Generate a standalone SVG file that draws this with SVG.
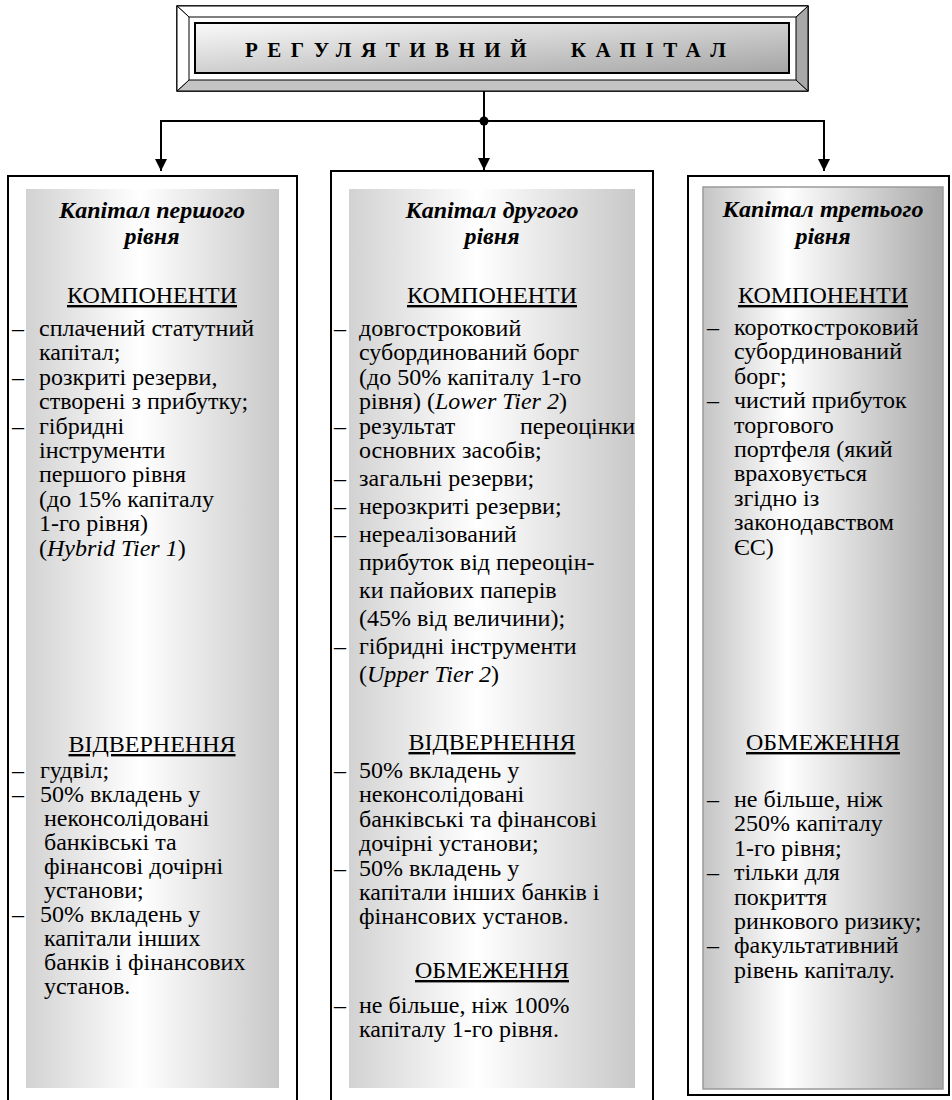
<svg xmlns="http://www.w3.org/2000/svg" width="952" height="1100" viewBox="0 0 952 1100">
<defs>
<linearGradient id="gCol" x1="0" y1="0" x2="1" y2="0">
<stop offset="0" stop-color="#d2d2d2"/><stop offset="0.45" stop-color="#ffffff"/><stop offset="1" stop-color="#c8c8c8"/>
</linearGradient>
<linearGradient id="gCol3" x1="0" y1="0" x2="1" y2="0">
<stop offset="0" stop-color="#c4c4c4"/><stop offset="0.35" stop-color="#ffffff"/><stop offset="1" stop-color="#a8a8a8"/>
</linearGradient>
<linearGradient id="gTitle" x1="0" y1="0" x2="1" y2="1">
<stop offset="0" stop-color="#fafafa"/><stop offset="1" stop-color="#a4a4a4"/>
</linearGradient>
<marker id="arr" viewBox="0 0 12 12" refX="12" refY="6" markerWidth="12" markerHeight="12" markerUnits="userSpaceOnUse" orient="auto">
<path d="M0,0 L12,6 L0,12 Z" fill="#000"/>
</marker>
<style>
.h{font-weight:bold;font-style:italic;text-anchor:middle}
.s{text-decoration:underline;text-anchor:middle}
.i{font-style:italic}
.box{fill:#fff;stroke:#000;stroke-width:2}
</style>
</defs>
<rect width="952" height="1100" fill="#fff"/>

<g id="tier1" font-family="Liberation Serif, serif" font-size="24">
<rect class="box" x="8" y="176" width="289" height="932"/>
<rect x="26" y="189" width="253" height="899" fill="url(#gCol)"/>
<text x="39" y="555.6">(<tspan class="i">Hybrid Tier 1</tspan>)</text>
<text class="h" x="152" y="218">Капітал першого</text>
<text class="h" x="152" y="244">рівня</text>
<text class="s" x="152" y="303">КОМПОНЕНТИ</text>
<text x="12" y="336">–</text><text x="39" y="336">сплачений статутний</text>
<text x="39" y="360.4">капітал;</text>
<text x="12" y="384.8">–</text><text x="39" y="384.8">розкриті резерви,</text>
<text x="39" y="409.2">створені з прибутку;</text>
<text x="12" y="433.6">–</text><text x="39" y="433.6">гібридні</text>
<text x="39" y="458">інструменти</text>
<text x="39" y="482.4">першого рівня</text>
<text x="39" y="506.8">(до 15% капіталу</text>
<text x="39" y="531.2">1-го рівня)</text>
<text class="s" x="152" y="752">ВІДВЕРНЕННЯ</text>
<text x="12" y="778">–</text><text x="40" y="778">гудвіл;</text>
<text x="12" y="802">–</text><text x="40" y="802">50% вкладень у</text>
<text x="44" y="826">неконсолідовані</text>
<text x="44" y="850">банківські та</text>
<text x="44" y="874">фінансові дочірні</text>
<text x="44" y="898">установи;</text>
<text x="12" y="922">–</text><text x="40" y="922">50% вкладень у</text>
<text x="44" y="946">капітали інших</text>
<text x="44" y="970">банків і фінансових</text>
<text x="44" y="994">установ.</text>
</g>

<g id="tier2" font-family="Liberation Serif, serif" font-size="24">
<rect class="box" x="331" y="171" width="322" height="937"/>
<rect x="349" y="189" width="286" height="899" fill="url(#gCol)"/>
<text x="359" y="409.2">рівня) (<tspan class="i">Lower Tier 2</tspan>)</text>
<text class="h" x="492" y="218">Капітал другого</text>
<text class="h" x="492" y="244">рівня</text>
<text class="s" x="492" y="303">КОМПОНЕНТИ</text>
<text x="334" y="336">–</text><text x="359" y="336">довгостроковий</text>
<text x="359" y="360.4">субординований борг</text>
<text x="359" y="384.8">(до 50% капіталу 1-го</text>
<text x="334" y="433.6">–</text><text x="359" y="433.6">результат</text><text x="635" y="433.6" text-anchor="end">переоцінки</text>
<text x="359" y="458">основних засобів;</text>
<text x="334" y="486">–</text><text x="359" y="486">загальні резерви;</text>
<text x="334" y="514">–</text><text x="359" y="514">нерозкриті резерви;</text>
<text x="334" y="542">–</text><text x="359" y="542">нереалізований</text>
<text x="359" y="570">прибуток від переоцін-</text>
<text x="359" y="598">ки пайових паперів</text>
<text x="359" y="626">(45% від величини);</text>
<text x="334" y="654">–</text><text x="359" y="654">гібридні інструменти</text>
<text x="359" y="682">(<tspan class="i">Upper Tier 2</tspan>)</text>
<text class="s" x="492" y="750">ВІДВЕРНЕННЯ</text>
<text x="334" y="778">–</text><text x="359" y="778">50% вкладень у</text>
<text x="359" y="802.4">неконсолідовані</text>
<text x="359" y="826.8">банківські та фінансові</text>
<text x="359" y="851.2">дочірні установи;</text>
<text x="334" y="875.6">–</text><text x="359" y="875.6">50% вкладень у</text>
<text x="359" y="900">капітали інших банків і</text>
<text x="359" y="924.4">фінансових установ.</text>
<text class="s" x="492" y="978">ОБМЕЖЕННЯ</text>
<text x="334" y="1013">–</text><text x="359" y="1013">не більше, ніж 100%</text>
<text x="359" y="1037.4">капіталу 1-го рівня.</text>
</g>

<g id="tier3" font-family="Liberation Serif, serif" font-size="24">
<rect class="box" x="688" y="176" width="261" height="919"/>
<rect x="703" y="187" width="240" height="902" fill="url(#gCol3)" stroke="#9a9a9a" stroke-width="1.5"/>
<text class="h" x="823" y="217">Капітал третього</text>
<text class="h" x="823" y="244">рівня</text>
<text class="s" x="823" y="303">КОМПОНЕНТИ</text>
<text x="707" y="335">–</text><text x="734" y="335">короткостроковий</text>
<text x="734" y="359.4">субординований</text>
<text x="734" y="383.8">борг;</text>
<text x="707" y="408.2">–</text><text x="734" y="408.2">чистий прибуток</text>
<text x="734" y="432.6">торгового</text>
<text x="734" y="457">портфеля (який</text>
<text x="734" y="481.4">враховується</text>
<text x="734" y="505.8">згідно із</text>
<text x="734" y="530.2">законодавством</text>
<text x="734" y="554.6">ЄС)</text>
<text class="s" x="823" y="750">ОБМЕЖЕННЯ</text>
<text x="707" y="807">–</text><text x="734" y="807">не більше, ніж</text>
<text x="734" y="831.4">250% капіталу</text>
<text x="734" y="855.8">1-го рівня;</text>
<text x="707" y="880.2">–</text><text x="734" y="880.2">тільки для</text>
<text x="734" y="904.6">покриття</text>
<text x="734" y="929">ринкового ризику;</text>
<text x="707" y="953.4">–</text><text x="734" y="953.4">факультативний</text>
<text x="734" y="977.8">рівень капіталу.</text>
</g>

<g id="title">
<rect x="177" y="6" width="631" height="85" fill="#fff" stroke="#000" stroke-width="1.5"/>
<polygon points="177,91 189,80 796,80 808,91" fill="#c4c4c4" stroke="#000" stroke-width="1"/>
<polygon points="808,6 796,17 796,80 808,91" fill="#a8a8a8" stroke="#000" stroke-width="1"/>
<polygon points="177,6 808,6 796,17 189,17" fill="#fff" stroke="#000" stroke-width="1"/>
<polygon points="177,6 189,17 189,80 177,91" fill="#fff" stroke="#000" stroke-width="1"/>
<rect x="195" y="23" width="594" height="50" fill="url(#gTitle)" stroke="#000" stroke-width="2"/>
<text x="245" y="57" font-family="Liberation Serif, serif" font-size="21" font-weight="bold" letter-spacing="9.5" word-spacing="20">РЕГУЛЯТИВНИЙ КАПІТАЛ</text>
</g>

<g id="connectors" stroke="#000" stroke-width="2" fill="none">
<line x1="484" y1="91" x2="484" y2="121"/>
<line x1="160" y1="121" x2="825" y2="121"/>
<circle cx="484" cy="121" r="4.5" fill="#000" stroke="none"/>
<line x1="161" y1="121" x2="161" y2="171" marker-end="url(#arr)"/>
<line x1="484" y1="121" x2="484" y2="170" marker-end="url(#arr)"/>
<line x1="824" y1="121" x2="824" y2="171" marker-end="url(#arr)"/>
</g>
</svg>
